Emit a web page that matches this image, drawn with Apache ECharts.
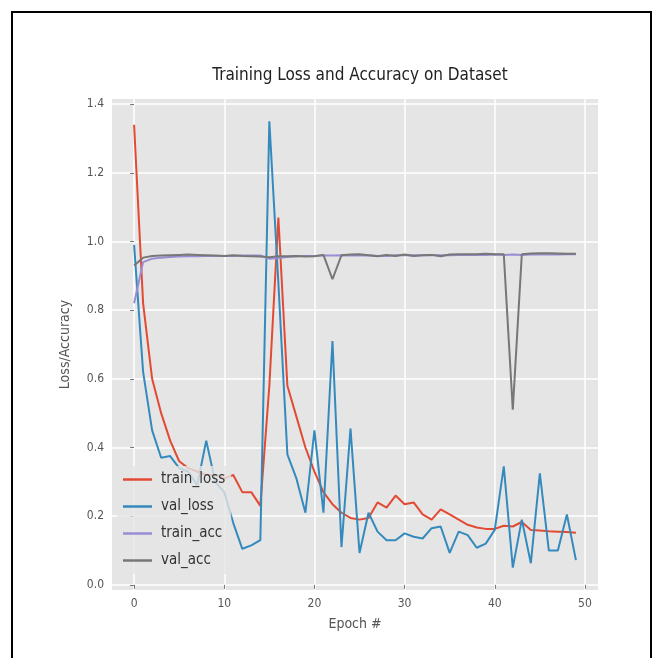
<!DOCTYPE html>
<html>
<head>
<meta charset="utf-8">
<script src="https://cdn.jsdelivr.net/npm/echarts@6/dist/echarts.min.js"></script>
<style>
html,body{margin:0;padding:0;background:#fff;}
#chart{width:663px;height:658px;}
</style>
</head>
<body>
<div id="chart"></div>
<script>
var epochs = [0,1,2,3,4,5,6,7,8,9,10,11,12,13,14,15,16,17,18,19,20,21,22,23,24,25,26,27,28,29,30,31,32,33,34,35,36,37,38,39,40,41,42,43,44,45,46,47,48,49];
var trainLoss = [1.34,0.82,0.60,0.50,0.42,0.36,0.34,0.33,0.32,0.32,0.31,0.32,0.27,0.27,0.23,0.58,1.07,0.58,0.49,0.40,0.33,0.27,0.235,0.21,0.195,0.19,0.195,0.24,0.225,0.26,0.235,0.24,0.205,0.19,0.22,0.205,0.19,0.175,0.167,0.163,0.163,0.172,0.17,0.183,0.16,0.158,0.156,0.155,0.154,0.152];
var valLoss = [0.99,0.62,0.45,0.37,0.375,0.34,0.33,0.29,0.42,0.30,0.27,0.18,0.105,0.115,0.13,1.35,0.88,0.38,0.31,0.21,0.45,0.21,0.71,0.11,0.455,0.093,0.21,0.155,0.13,0.13,0.15,0.14,0.135,0.165,0.17,0.093,0.155,0.145,0.108,0.12,0.16,0.345,0.05,0.19,0.063,0.325,0.10,0.10,0.205,0.072];
var trainAcc = [0.82,0.94,0.950,0.953,0.955,0.956,0.957,0.957,0.958,0.958,0.958,0.958,0.959,0.959,0.959,0.950,0.952,0.955,0.957,0.958,0.958,0.959,0.959,0.960,0.959,0.959,0.960,0.958,0.958,0.960,0.960,0.960,0.960,0.961,0.960,0.960,0.961,0.961,0.961,0.961,0.962,0.961,0.962,0.961,0.962,0.962,0.962,0.962,0.963,0.963];
var valAcc = [0.93,0.953,0.958,0.959,0.960,0.961,0.962,0.961,0.960,0.959,0.958,0.960,0.958,0.957,0.956,0.954,0.957,0.957,0.958,0.956,0.957,0.961,0.89,0.960,0.962,0.963,0.960,0.957,0.961,0.958,0.962,0.958,0.960,0.961,0.957,0.962,0.963,0.963,0.963,0.964,0.963,0.963,0.51,0.963,0.965,0.966,0.966,0.965,0.964,0.964];
var xTicks = [0,10,20,30,40,50];
var yTicks = [0,0.2,0.4,0.6,0.8,1.0,1.2,1.4];

function pairs(vals){ return epochs.map(function(e,i){ return [e, vals[i]]; }); }

var FONT = "'DejaVu Sans Condensed','Liberation Sans Narrow','DejaVu Sans',sans-serif";
var chart = echarts.init(document.getElementById('chart'), null, {renderer:'canvas'});
var gridLine = {show:true, lineStyle:{color:'#ffffff', width:1.5}};
function mkSeries(name, vals, color){
  return {name:name, type:'line', data:pairs(vals), symbol:'none', smooth:false,
    lineStyle:{color:color, width:2}, itemStyle:{color:color}, animation:false};
}
chart.setOption({
  animation:false,
  backgroundColor:'#ffffff',
  title:{text:'Training Loss and Accuracy on Dataset', left:355, textAlign:'center', top:62,
    textStyle:{fontFamily:FONT, fontSize:17, fontWeight:'normal', color:'#222'}},
  grid:{left:112, right:65, top:99, bottom:68, show:true, backgroundColor:'#E5E5E5', borderWidth:0},
  xAxis:{type:'value', min:-2.45, max:51.45,
    axisLine:{show:false},
    axisTick:{show:true, customValues:xTicks, length:4, lineStyle:{color:'#777'}},
    axisLabel:{customValues:xTicks, color:'#555', fontSize:12, fontFamily:FONT, margin:8},
    splitLine:gridLine,
    name:'Epoch #', nameLocation:'middle', nameGap:27,
    nameTextStyle:{color:'#555', fontSize:14, fontFamily:FONT}},
  yAxis:{type:'value', min:-0.015, max:1.415,
    axisLine:{show:false},
    axisTick:{show:true, customValues:yTicks, length:4, lineStyle:{color:'#777'}},
    axisLabel:{customValues:yTicks, color:'#555', fontSize:12, fontFamily:FONT, margin:8,
      formatter:function(v){ return v.toFixed(1); }},
    splitLine:gridLine,
    name:'Loss/Accuracy', nameLocation:'middle', nameGap:40, nameRotate:90,
    nameTextStyle:{color:'#555', fontSize:14, fontFamily:FONT}},
  legend:{orient:'vertical', left:117, top:466, icon:'rect', itemWidth:29, itemHeight:2.5, itemGap:12,
    backgroundColor:'rgba(229,229,229,0.8)', padding:[6,6,6,6],
    textStyle:{color:'#333', fontSize:15, fontFamily:FONT, padding:[0,0,0,4]},
    data:['train_loss','val_loss','train_acc','val_acc']},
  graphic:[{type:'rect', shape:{x:12, y:12, width:639, height:650},
    style:{fill:'none', stroke:'#000', lineWidth:2}, silent:true}],
  series:[
    mkSeries('train_loss', trainLoss, '#E24A33'),
    mkSeries('val_loss', valLoss, '#348ABD'),
    mkSeries('train_acc', trainAcc, '#988ED5'),
    mkSeries('val_acc', valAcc, '#777777')
  ]
});
</script>
</body>
</html>
